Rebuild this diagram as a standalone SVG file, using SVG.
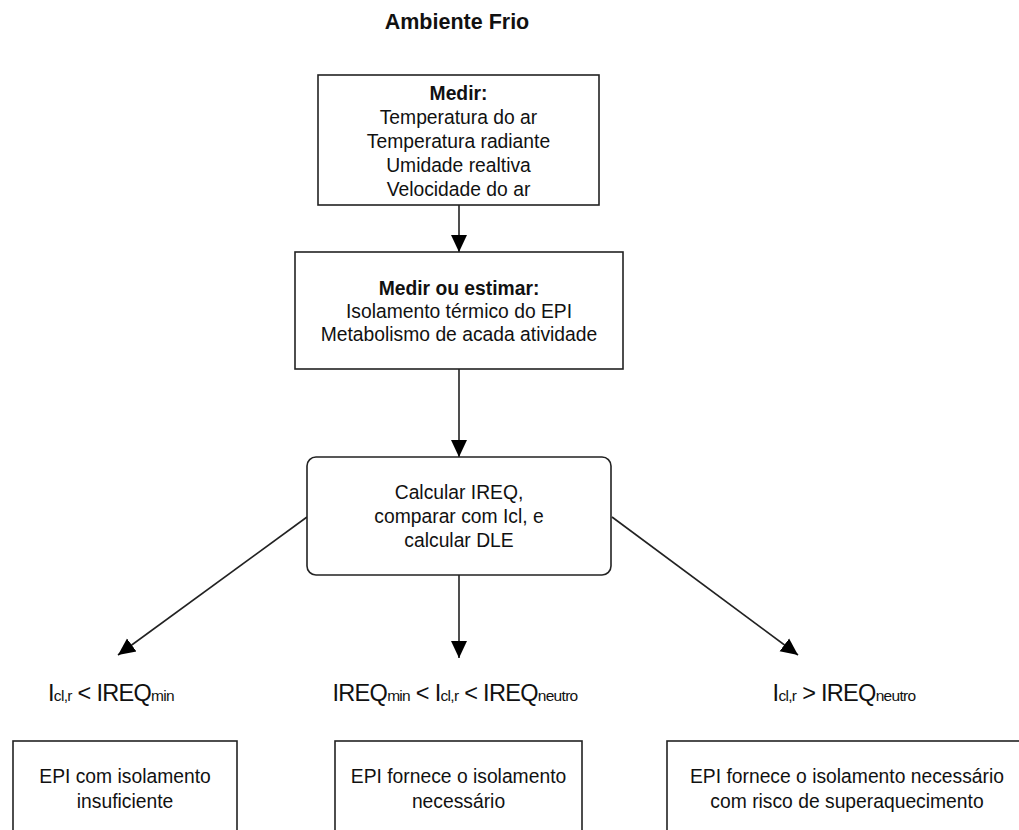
<svg xmlns="http://www.w3.org/2000/svg" width="1019" height="830" viewBox="0 0 1019 830">
<style>
.box{fill:#fff;stroke:#222;stroke-width:1.6}
.t{font-family:"Liberation Sans",Arial,sans-serif;font-size:19.3px;fill:#111;text-anchor:middle}
.b{font-weight:bold}
.lbl{font-size:23.5px;letter-spacing:-0.7px}
.sub{font-size:15.5px}
.conn{stroke:#222;stroke-width:1.6;fill:none}
</style>
<defs>
<marker id="ah" markerUnits="userSpaceOnUse" markerWidth="18" markerHeight="18" viewBox="0 0 18 18" refX="17" refY="9" orient="auto">
<path d="M0,1 L17,9 L0,17 Z" fill="#000"/>
</marker>
</defs>
<rect width="1019" height="830" fill="#fff"/>
<text class="t b" x="457" y="29" style="font-size:21.5px">Ambiente Frio</text>
<g id="connectors">
<line class="conn" x1="459" y1="205" x2="459" y2="252" marker-end="url(#ah)"/>
<line class="conn" x1="459" y1="369" x2="459" y2="457" marker-end="url(#ah)"/>
<line class="conn" x1="459" y1="575" x2="459" y2="658" marker-end="url(#ah)"/>
<line class="conn" x1="307" y1="517" x2="118" y2="655" marker-end="url(#ah)"/>
<line class="conn" x1="612" y1="517" x2="798" y2="655" marker-end="url(#ah)"/>
</g>
<g id="medir">
<rect class="box" x="318" y="75" width="281" height="130"/>
<text class="t b" x="458.5" y="100">Medir:</text>
<text class="t" x="458.5" y="124">Temperatura do ar</text>
<text class="t" x="458.5" y="148">Temperatura radiante</text>
<text class="t" x="458.5" y="172">Umidade realtiva</text>
<text class="t" x="458.5" y="196">Velocidade do ar</text>
</g>
<g id="estimar">
<rect class="box" x="295" y="252" width="328" height="117"/>
<text class="t b" x="459" y="295">Medir ou estimar:</text>
<text class="t" x="459" y="318">Isolamento térmico do EPI</text>
<text class="t" x="459" y="341">Metabolismo de acada atividade</text>
</g>
<g id="calcular">
<rect class="box" x="307" y="457" width="304" height="118" rx="9"/>
<text class="t" x="459" y="499">Calcular IREQ,</text>
<text class="t" x="459" y="523">comparar com Icl, e</text>
<text class="t" x="459" y="547">calcular DLE</text>
</g>
<g id="label-left">
<text class="t lbl" x="111" y="701">I<tspan class="sub">cl,r</tspan> &lt; IREQ<tspan class="sub">min</tspan></text>
</g>
<g id="label-mid">
<text class="t lbl" x="455" y="701">IREQ<tspan class="sub">min</tspan> &lt; I<tspan class="sub">cl,r</tspan> &lt; IREQ<tspan class="sub">neutro</tspan></text>
</g>
<g id="label-right">
<text class="t lbl" x="844" y="701">I<tspan class="sub">cl,r</tspan> &gt; IREQ<tspan class="sub">neutro</tspan></text>
</g>
<g id="out-left">
<rect class="box" x="13" y="741" width="224" height="110"/>
<text class="t" x="125" y="783">EPI com isolamento</text>
<text class="t" x="125" y="808">insuficiente</text>
</g>
<g id="out-mid">
<rect class="box" x="335" y="741" width="247" height="110"/>
<text class="t" x="458.5" y="783">EPI fornece o isolamento</text>
<text class="t" x="458.5" y="808">necessário</text>
</g>
<g id="out-right">
<rect class="box" x="667" y="741" width="370" height="110"/>
<text class="t" x="847" y="783">EPI fornece o isolamento necessário</text>
<text class="t" x="847" y="808">com risco de superaquecimento</text>
</g>
</svg>
